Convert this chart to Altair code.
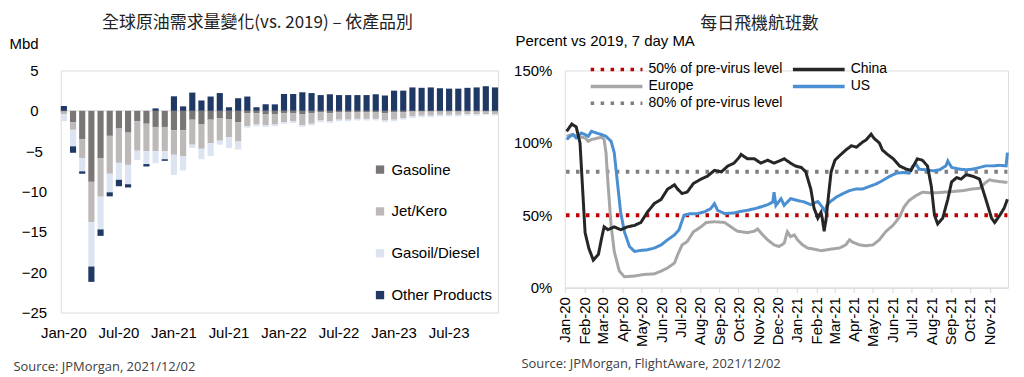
import altair as alt
import pandas as pd

NARROW = "Liberation Sans Narrow, Arial Narrow, Liberation Sans, Arial, sans-serif"
SRC_FONT = "Open Sans, sans-serif"
CJK = "Noto Sans CJK TC, Noto Sans CJK SC, sans-serif"

# ---------------- Left chart data ----------------
months = ["Jan-20", "Feb-20", "Mar-20", "Apr-20", "May-20", "Jun-20", "Jul-20", "Aug-20", "Sep-20", "Oct-20", "Nov-20", "Dec-20",
          "Jan-21", "Feb-21", "Mar-21", "Apr-21", "May-21", "Jun-21", "Jul-21", "Aug-21", "Sep-21", "Oct-21", "Nov-21", "Dec-21",
          "Jan-22", "Feb-22", "Mar-22", "Apr-22", "May-22", "Jun-22", "Jul-22", "Aug-22", "Sep-22", "Oct-22", "Nov-22", "Dec-22",
          "Jan-23", "Feb-23", "Mar-23", "Apr-23", "May-23", "Jun-23", "Jul-23", "Aug-23", "Sep-23", "Oct-23", "Nov-23", "Dec-23"]
month_labels = ["Jan-20", "Jul-20", "Jan-21", "Jul-21", "Jan-22", "Jul-22", "Jan-23", "Jul-23"]

gasoline = [-0.1, -1.4, -3.5, -8.8, -5.9, -3.1, -2.2, -2.7, -1.3, -1.6, -2.0, -2.0,
            -2.4, -2.4, -1.1, -1.7, -1.1, -0.9, -1.0, -1.4, -0.3, -0.3, -0.4, -0.4,
            -0.3, -0.3, -0.4, -0.3, -0.2, -0.3, -0.2, -0.2, -0.2, -0.2, -0.2, -0.3,
            -0.2, -0.2, -0.1, -0.1, -0.1, -0.1, -0.1, -0.1, -0.1, -0.1, -0.1, -0.1]
jet_kero = [-0.3, -0.95, -2.35, -5.0, -4.75, -4.7, -4.25, -4.0, -3.65, -3.4, -3.0, -3.0,
            -3.05, -3.2, -3.1, -3.0, -2.9, -2.8, -2.25, -2.4, -1.6, -1.4, -1.4, -1.3,
            -1.1, -1.0, -1.4, -1.3, -1.0, -1.0, -0.9, -0.9, -0.8, -0.8, -0.8, -0.9,
            -0.9, -0.7, -0.6, -0.5, -0.5, -0.4, -0.4, -0.4, -0.3, -0.3, -0.3, -0.3]
gasoil_diesel = [-0.9, -2.05, -1.65, -5.5, -4.05, -2.3, -2.1, -2.4, -1.15, -1.6, -1.5, -1.0,
                 -2.5, -1.8, -0.4, -1.3, -1.6, -0.5, -1.35, -1.0, -0.2, -0.2, -0.2, -0.2,
                 -0.2, -0.2, -0.2, -0.2, -0.2, -0.2, -0.2, -0.2, -0.2, -0.2, -0.2, -0.2,
                 -0.2, -0.2, -0.2, -0.2, -0.2, -0.2, -0.2, -0.2, -0.2, -0.2, -0.1, -0.2]
other_products = [0.6, -0.8, -0.3, -1.9, -0.8, -0.5, -0.8, -0.4, 0.0, -0.3, 0.3, -0.2,
                  1.8, 0.55, 2.26, 1.28, 1.77, 2.2, 0.45, 1.56, 1.77, 0.45, 0.8, 0.8,
                  2.1, 2.1, 2.3, 2.2, 1.95, 2.05, 1.95, 1.95, 1.95, 1.95, 2.05, 1.9,
                  2.5, 2.5, 2.9, 2.85, 2.9, 2.8, 2.75, 2.75, 2.85, 2.9, 3.05, 2.9]

products = ["Gasoline", "Jet/Kero", "Gasoil/Diesel", "Other Products"]
product_colors = ["#7b7676", "#bdb9b9", "#dce4f2", "#1f3864"]

# ---------------- Right chart data ----------------
china = [("2020-01-04", 108), ("2020-01-12", 113), ("2020-01-19", 111), ("2020-01-25", 100), ("2020-02-02", 38),
         ("2020-02-08", 27), ("2020-02-15", 19), ("2020-02-23", 23), ("2020-02-28", 34), ("2020-03-03", 42),
         ("2020-03-09", 40), ("2020-03-19", 42), ("2020-03-29", 40), ("2020-04-09", 42), ("2020-04-20", 43),
         ("2020-04-30", 45), ("2020-05-10", 52), ("2020-05-21", 58), ("2020-06-01", 61), ("2020-06-11", 68),
         ("2020-06-22", 71), ("2020-06-27", 68), ("2020-07-04", 65), ("2020-07-12", 66), ("2020-07-22", 72),
         ("2020-08-03", 75), ("2020-08-13", 77), ("2020-08-24", 81), ("2020-09-04", 80), ("2020-09-14", 84),
         ("2020-09-24", 86), ("2020-10-02", 90), ("2020-10-05", 92), ("2020-10-15", 89), ("2020-10-26", 89),
         ("2020-11-05", 86), ("2020-11-16", 88), ("2020-11-26", 86), ("2020-12-07", 88), ("2020-12-12", 89),
         ("2020-12-22", 86), ("2020-12-30", 84), ("2021-01-08", 83), ("2021-01-15", 80), ("2021-01-23", 68),
         ("2021-01-28", 55), ("2021-02-03", 48), ("2021-02-08", 52), ("2021-02-10", 48), ("2021-02-13", 39),
         ("2021-02-16", 47), ("2021-02-20", 64), ("2021-02-24", 80), ("2021-03-02", 88), ("2021-03-09", 91),
         ("2021-03-19", 95), ("2021-03-28", 98), ("2021-04-05", 97), ("2021-04-13", 100), ("2021-04-20", 102),
         ("2021-04-28", 106), ("2021-05-03", 103), ("2021-05-11", 100), ("2021-05-16", 95), ("2021-05-24", 92),
         ("2021-06-02", 89), ("2021-06-12", 84), ("2021-06-22", 82), ("2021-06-30", 81), ("2021-07-10", 89),
         ("2021-07-18", 88), ("2021-07-26", 84), ("2021-08-01", 70), ("2021-08-06", 50), ("2021-08-11", 44),
         ("2021-08-19", 48), ("2021-08-27", 61), ("2021-09-02", 73), ("2021-09-10", 76), ("2021-09-17", 75),
         ("2021-09-25", 78), ("2021-10-05", 77), ("2021-10-16", 75), ("2021-10-26", 61), ("2021-11-04", 48),
         ("2021-11-09", 45), ("2021-11-17", 50), ("2021-11-24", 55), ("2021-11-29", 61)]

europe = [("2020-01-04", 104.5), ("2020-01-12", 105.7), ("2020-01-22", 104.5), ("2020-02-02", 103.4), ("2020-02-07", 101.1),
          ("2020-02-12", 102.3), ("2020-02-23", 103.4), ("2020-02-28", 104), ("2020-03-03", 102.3), ("2020-03-06", 93.2),
          ("2020-03-09", 72.7), ("2020-03-14", 43.2), ("2020-03-19", 25), ("2020-03-27", 11.4), ("2020-04-04", 7.5),
          ("2020-04-20", 8), ("2020-05-05", 9.1), ("2020-05-21", 9.5), ("2020-06-01", 11.4), ("2020-06-11", 13.6),
          ("2020-06-22", 17), ("2020-06-27", 22.7), ("2020-07-04", 29.5), ("2020-07-12", 31.8), ("2020-07-22", 38.6),
          ("2020-08-03", 42), ("2020-08-11", 45), ("2020-08-24", 45.5), ("2020-09-09", 45), ("2020-09-19", 42),
          ("2020-09-29", 39), ("2020-10-15", 38), ("2020-10-26", 39), ("2020-10-31", 40.5), ("2020-11-08", 36.4),
          ("2020-11-16", 33), ("2020-11-26", 29.5), ("2020-12-04", 28.4), ("2020-12-12", 30.7), ("2020-12-17", 38.6),
          ("2020-12-22", 35.2), ("2020-12-28", 36.4), ("2021-01-02", 33), ("2021-01-10", 29.5), ("2021-01-18", 27.3),
          ("2021-01-28", 26.6), ("2021-02-08", 25.5), ("2021-02-17", 26.1), ("2021-02-27", 26.8), ("2021-03-09", 27.3),
          ("2021-03-19", 29.5), ("2021-03-25", 33), ("2021-03-30", 31.4), ("2021-04-10", 29.5), ("2021-04-20", 28.9),
          ("2021-05-01", 29.5), ("2021-05-11", 33), ("2021-05-21", 38.6), ("2021-06-02", 43.2), ("2021-06-12", 48.9),
          ("2021-06-19", 55.7), ("2021-06-27", 60.2), ("2021-07-08", 63.6), ("2021-07-18", 65.9), ("2021-07-29", 65.5),
          ("2021-08-09", 65.5), ("2021-08-19", 65.9), ("2021-09-04", 66.4), ("2021-09-20", 67), ("2021-10-05", 68.2),
          ("2021-10-16", 68.6), ("2021-10-26", 72.7), ("2021-11-01", 74.5), ("2021-11-06", 73.9), ("2021-11-17", 73.2),
          ("2021-11-29", 72.7)]

us = [("2020-01-04", 102.3), ("2020-01-09", 104.5), ("2020-01-14", 105.7), ("2020-01-19", 103.4), ("2020-01-27", 106.8),
      ("2020-02-02", 105.7), ("2020-02-07", 104.5), ("2020-02-12", 108), ("2020-02-20", 106.8), ("2020-02-28", 105.7),
      ("2020-03-06", 104.5), ("2020-03-14", 101.1), ("2020-03-19", 93.2), ("2020-03-24", 72.7), ("2020-03-29", 52.3),
      ("2020-04-04", 38.6), ("2020-04-12", 28.4), ("2020-04-20", 25), ("2020-04-30", 25.7), ("2020-05-10", 26.1),
      ("2020-05-21", 27.3), ("2020-06-01", 29.5), ("2020-06-11", 33), ("2020-06-22", 36.4), ("2020-06-29", 39.8),
      ("2020-07-07", 50), ("2020-07-17", 51.1), ("2020-07-28", 51.1), ("2020-08-08", 52.3), ("2020-08-18", 54.5),
      ("2020-08-24", 58), ("2020-08-29", 53.4), ("2020-09-09", 51.1), ("2020-09-24", 51.6), ("2020-10-05", 52.7),
      ("2020-10-15", 53.4), ("2020-10-26", 54.5), ("2020-11-05", 55.7), ("2020-11-16", 57.3), ("2020-11-24", 59.1),
      ("2020-11-26", 65.9), ("2020-11-29", 56.8), ("2020-12-07", 61.4), ("2020-12-12", 56.8), ("2020-12-22", 61.4),
      ("2021-01-02", 60.2), ("2021-01-13", 59.1), ("2021-01-23", 57.3), ("2021-02-03", 59.5), ("2021-02-10", 55.7),
      ("2021-02-15", 52.3), ("2021-02-17", 56.8), ("2021-02-22", 59.1), ("2021-03-04", 62.5), ("2021-03-14", 64.8),
      ("2021-03-25", 67), ("2021-04-05", 68.2), ("2021-04-15", 68.2), ("2021-04-26", 70), ("2021-05-06", 71.6),
      ("2021-05-16", 73.9), ("2021-05-27", 76.8), ("2021-06-07", 79.1), ("2021-06-17", 79.5), ("2021-06-27", 79.1),
      ("2021-07-03", 84.1), ("2021-07-08", 85.2), ("2021-07-13", 81.8), ("2021-07-23", 81.4), ("2021-08-04", 80.7),
      ("2021-08-14", 81.4), ("2021-08-24", 84.1), ("2021-08-27", 87.5), ("2021-09-02", 83), ("2021-09-15", 81.8),
      ("2021-09-25", 81.4), ("2021-10-05", 81.8), ("2021-10-16", 83), ("2021-10-26", 84.1), ("2021-11-06", 84.1),
      ("2021-11-17", 84.5), ("2021-11-27", 84.1), ("2021-11-29", 93.2)]

ref_dates = ["2020-01-03", "2021-11-29"]
ref_levels = {"50% of pre-virus level": 50, "80% of pre-virus level": 80}

series_order = ["50% of pre-virus level", "China", "Europe", "US", "80% of pre-virus level"]
series_colors = ["#c00000", "#262626", "#a6a6a6", "#4a8fd1", "#7f7f7f"]
series_dash = [[3.5, 6.5], [1, 0], [1, 0], [1, 0], [3.5, 6.5]]

# ---------------- Build tables ----------------
rows = []
for i, m in enumerate(months):
    for j, vals in enumerate([gasoline, jet_kero, gasoil_diesel, other_products]):
        rows.append({"month": m, "product": products[j], "value": vals[i], "ord": j})
bars_df = pd.DataFrame(rows)
zero_df = pd.DataFrame({"zero": [0]})

line_rows = []
for name, level in ref_levels.items():
    for d in ref_dates:
        line_rows.append({"date": d, "value": level, "series": name, "layer": "ref"})
for name, pts in [("Europe", europe), ("US", us), ("China", china)]:
    for d, v in pts:
        line_rows.append({"date": d, "value": v, "series": name, "layer": name})
lines_df = pd.DataFrame(line_rows)
lines_df["date"] = pd.to_datetime(lines_df["date"])

# ---------------- Left chart ----------------
x_left = alt.X("month:N", sort=months,
               scale=alt.Scale(paddingInner=0.33, paddingOuter=0),
               axis=alt.Axis(values=month_labels, labelAngle=0, ticks=False, domain=False,
                             labelFont=NARROW, labelFontSize=15, labelColor="#000000", labelPadding=13,
                             title="Source: JPMorgan, 2021/12/02", titleFont=SRC_FONT, titleFontSize=13,
                             titleFontWeight="normal", titleColor="#404040", titleAlign="left",
                             titleAnchor="start", titleX=-48, titleY=58, titleBaseline="alphabetic"))
y_left = alt.Y("value:Q", stack="zero",
               scale=alt.Scale(domain=[-25, 5], nice=False),
               axis=alt.Axis(values=[5, 0, -5, -10, -15, -20, -25], grid=False, domain=False, ticks=False,
                             tickSize=0, labelFont=NARROW, labelFontSize=15, labelColor="#000000",
                             labelAlign="center", labelPadding=27,
                             title="Mbd", titleAngle=0, titleFont=NARROW, titleFontSize=15,
                             titleFontWeight="normal", titleColor="#000000", titleAlign="left",
                             titleX=-52, titleY=-22, titleBaseline="alphabetic"))

bars = alt.Chart(bars_df).mark_bar().encode(
    x=x_left,
    y=y_left,
    color=alt.Color("product:N", scale=alt.Scale(domain=products, range=product_colors),
                    legend=alt.Legend(title=None, orient="none", legendX=313, legendY=92,
                                      symbolType="square", symbolSize=70, symbolStrokeWidth=0,
                                      labelFont=NARROW, labelFontSize=15, labelColor="#000000",
                                      rowPadding=26, labelOffset=4, padding=0)),
    order=alt.Order("ord:Q", sort="ascending"),
)
zero_rule = alt.Chart(zero_df).mark_rule(color="#d9d9d9", strokeWidth=1).encode(y="zero:Q")

left = alt.layer(zero_rule, bars).properties(
    width=439, height=243,
    title=alt.TitleParams("全球原油需求量變化(vs. 2019) – 依產品別", font=CJK, fontSize=17,
                          fontWeight="normal", color="#222222", anchor="middle", offset=5,
                          dx=-22, limit=700),
)

# ---------------- Right chart ----------------
x_right = alt.X("date:T",
                scale=alt.Scale(domain=[alt.DateTime(year=2020, month=1, date=1),
                                        alt.DateTime(year=2021, month=11, date=30)]),
                axis=alt.Axis(format="%b-%y", tickCount={"interval": "month", "step": 1},
                              labelAngle=270, labelOverlap=False, labelFont=NARROW, labelFontSize=15,
                              labelColor="#000000", labelPadding=4, grid=False,
                              domainColor="#d9d9d9", tickColor="#d9d9d9", tickSize=5,
                              title="Source: JPMorgan, FlightAware, 2021/12/02", titleFont=SRC_FONT,
                              titleFontSize=13, titleFontWeight="normal", titleColor="#404040",
                              titleAlign="left", titleAnchor="start", titleX=-44, titleY=80,
                              titleBaseline="alphabetic"))
y_right = alt.Y("value:Q", scale=alt.Scale(domain=[0, 150], nice=False),
                axis=alt.Axis(values=[0, 50, 100, 150], labelExpr="datum.value + '%'", grid=False,
                              domain=False, ticks=False, tickSize=0, labelFont=NARROW, labelFontSize=15,
                              labelColor="#000000", labelPadding=13,
                              title="Percent vs 2019, 7 day MA", titleAngle=0, titleFont=NARROW,
                              titleFontSize=15, titleFontWeight="normal", titleColor="#000000",
                              titleAlign="left", titleX=-50, titleY=-25, titleBaseline="alphabetic"))

# long horizontal line symbol: path spans 0..10 units, scaled by sqrt(size)/2
legend_r = alt.Legend(title=None, orient="none", legendX=19, legendY=-8, columns=2, direction="horizontal",
                      symbolType="M0,0H10", symbolSize=108, symbolStrokeWidth=3.5,
                      labelFont=NARROW, labelFontSize=14, labelColor="#000000",
                      labelLimit=300, columnPadding=3, rowPadding=3, padding=0, labelOffset=51)
color_r = alt.Color("series:N", scale=alt.Scale(domain=series_order, range=series_colors), legend=legend_r)
dash_r = alt.StrokeDash("series:N", scale=alt.Scale(domain=series_order, range=series_dash), legend=legend_r)

base_r = alt.Chart(lines_df).encode(x=x_right, y=y_right, color=color_r, strokeDash=dash_r)
ref_layer = base_r.transform_filter(alt.datum.layer == "ref").mark_line(strokeWidth=4)
eu_layer = base_r.transform_filter(alt.datum.layer == "Europe").mark_line(strokeWidth=3)
us_layer = base_r.transform_filter(alt.datum.layer == "US").mark_line(strokeWidth=3)
cn_layer = base_r.transform_filter(alt.datum.layer == "China").mark_line(strokeWidth=3)

right = alt.layer(ref_layer, eu_layer, us_layer, cn_layer).properties(
    width=445, height=218,
    title=alt.TitleParams("每日飛機航班數", font=CJK, fontSize=17, fontWeight="normal",
                          color="#222222", anchor="middle", offset=1, dx=-27, limit=700),
)

chart = (alt.hconcat(left, right, spacing=14)
         .resolve_scale(color="independent", strokeDash="independent", x="independent", y="independent")
         .resolve_legend(color="independent", strokeDash="independent")
         .properties(padding={"top": 4, "left": 0, "right": 0, "bottom": 0})
         .configure_view(stroke=None)
         .configure(background="white"))

chart.save("out.html", embed_options={"renderer": "svg", "actions": False})
